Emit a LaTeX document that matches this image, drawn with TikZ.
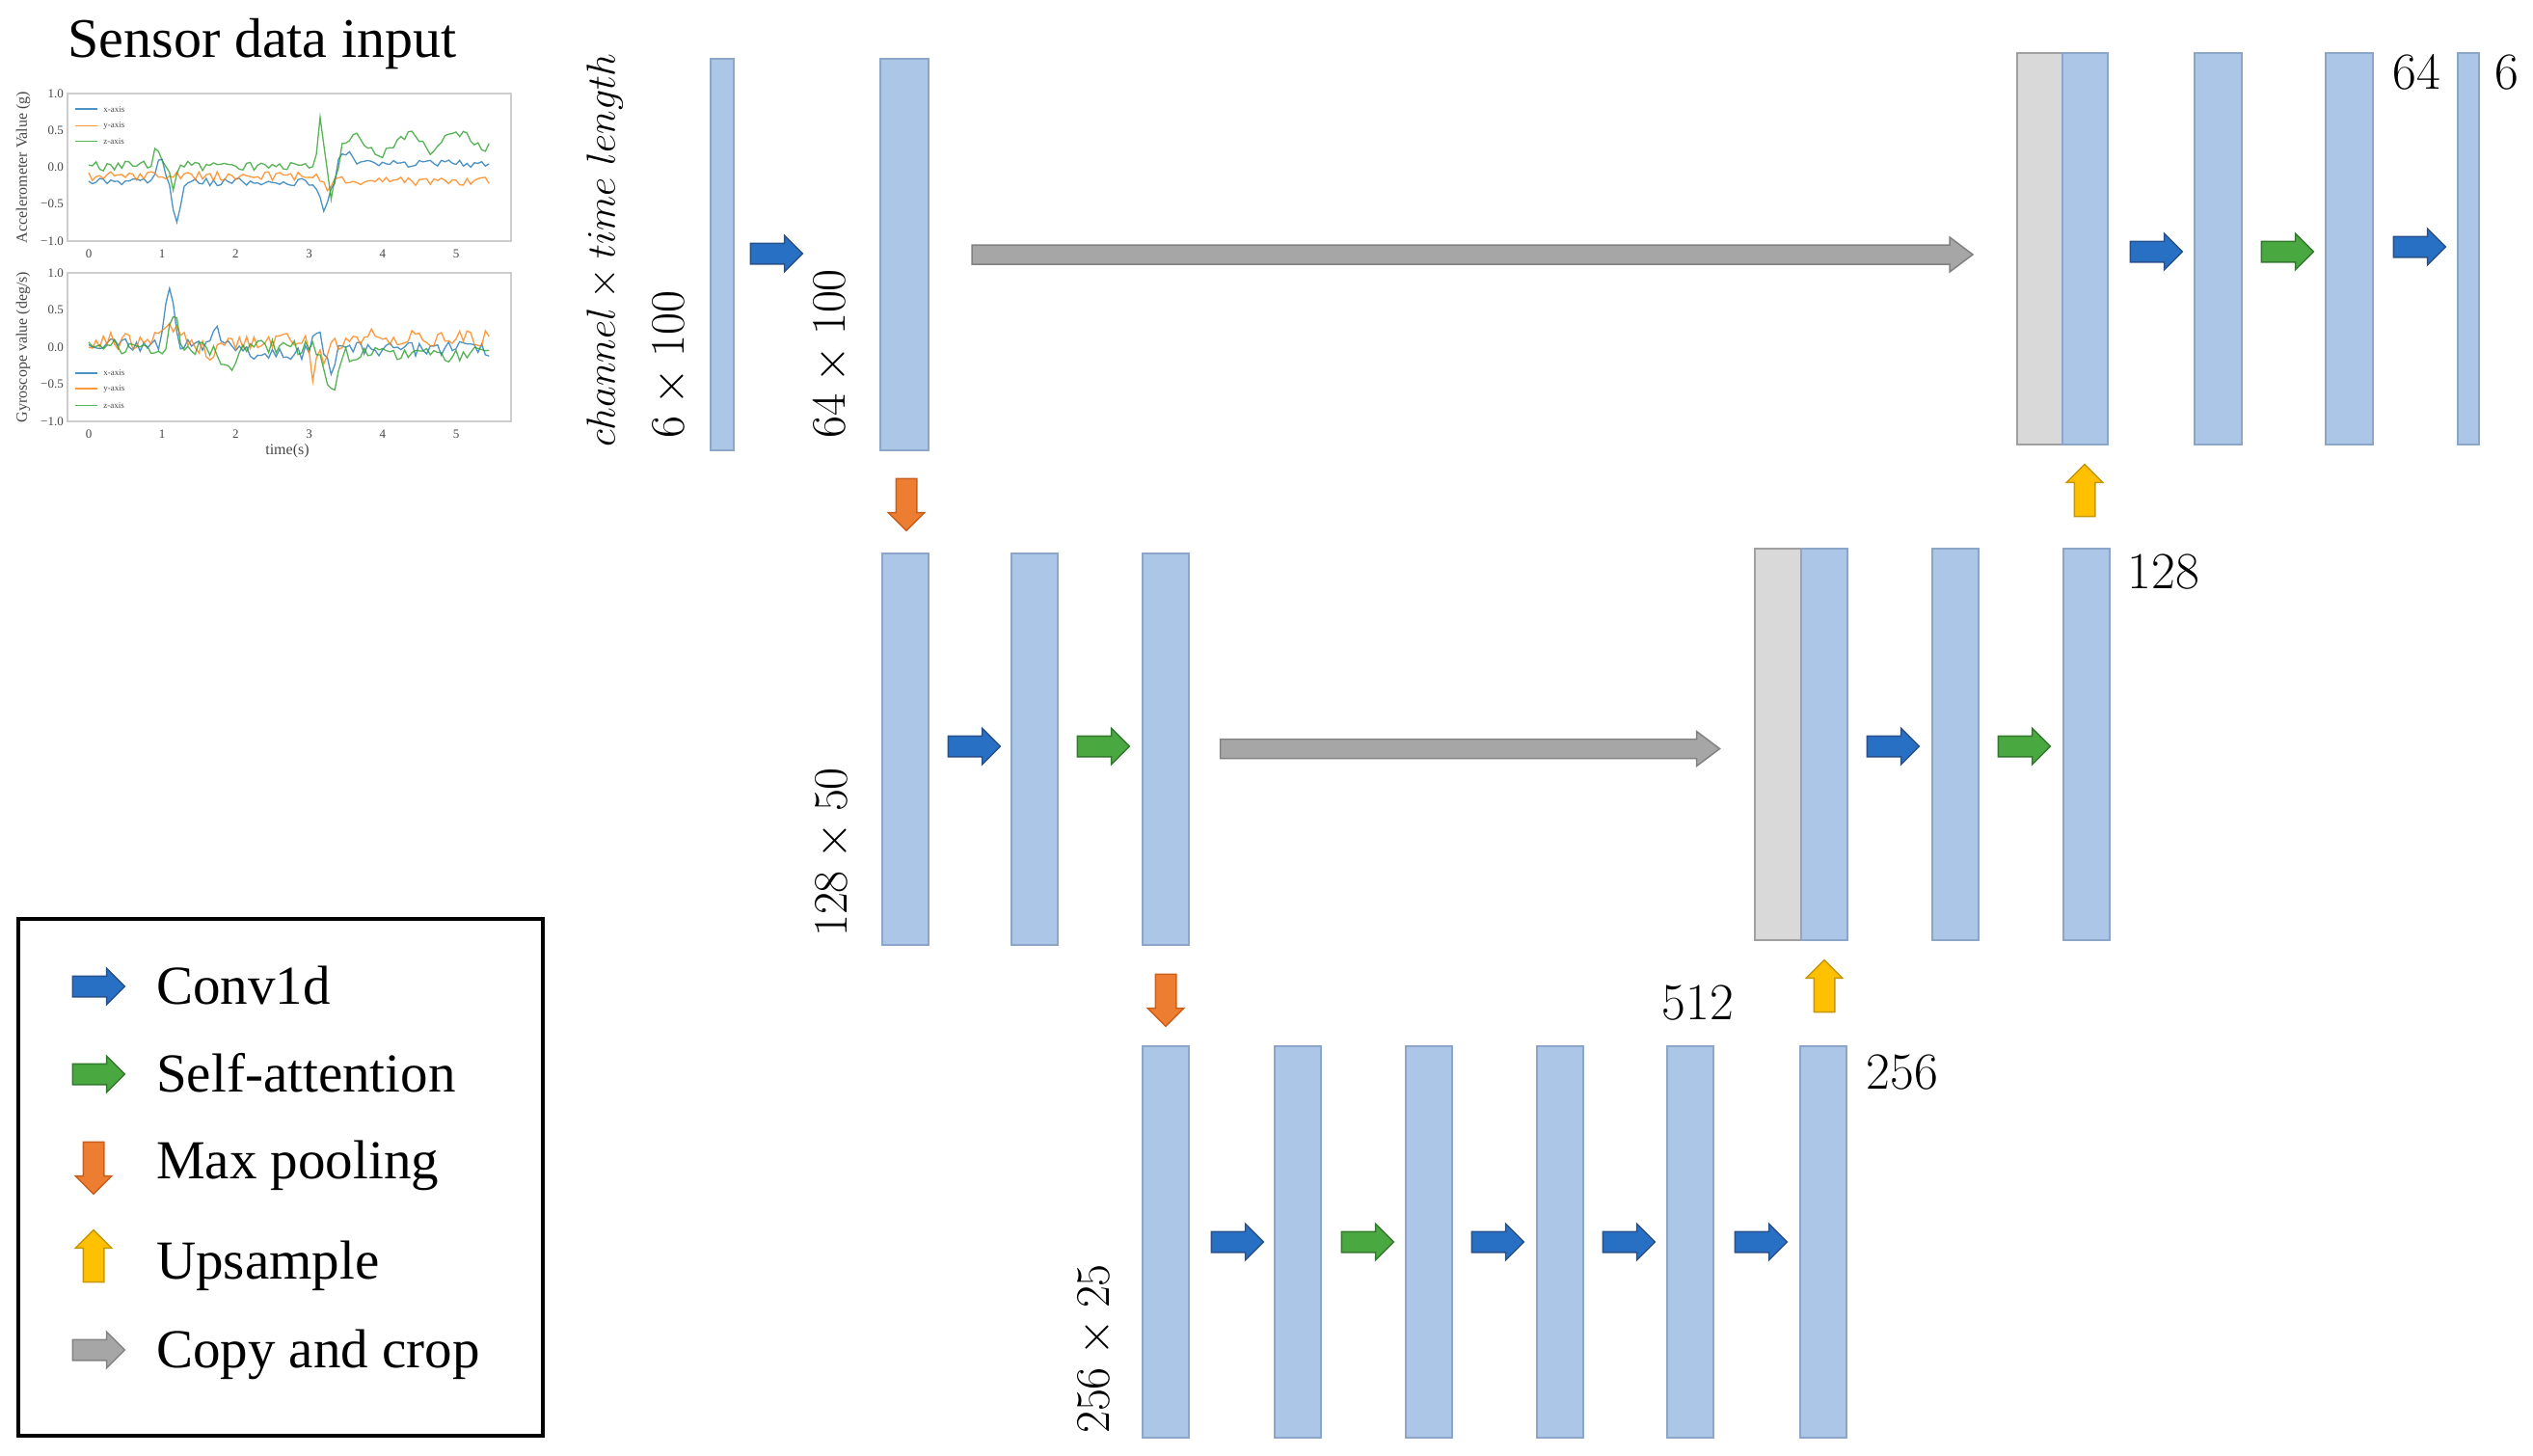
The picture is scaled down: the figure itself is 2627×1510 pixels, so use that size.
\documentclass[tikz,border=0pt]{standalone}
\usepackage{fix-cm}
\usepackage[no-math]{fontspec}
\newfontfamily\tnr{Liberation Serif}
\usetikzlibrary{shapes.arrows,calc}
\definecolor{barfill}{RGB}{172,198,232}
\definecolor{bardraw}{RGB}{140,166,202}
\definecolor{grayfill}{RGB}{217,217,217}
\definecolor{graydraw}{RGB}{160,160,160}
\definecolor{convfill}{RGB}{40,112,196}
\definecolor{convdraw}{RGB}{40,80,140}
\definecolor{attnfill}{RGB}{74,168,64}
\definecolor{attndraw}{RGB}{50,120,45}
\definecolor{poolfill}{RGB}{237,125,49}
\definecolor{pooldraw}{RGB}{200,95,30}
\definecolor{upfill}{RGB}{255,192,0}
\definecolor{updraw}{RGB}{200,150,0}
\definecolor{copyfill}{RGB}{166,166,166}
\definecolor{copydraw}{RGB}{130,130,130}
\definecolor{tabblue}{RGB}{31,119,180}
\definecolor{taborange}{RGB}{255,127,14}
\definecolor{tabgreen}{RGB}{44,160,44}
\definecolor{framegray}{RGB}{205,205,205}
\definecolor{ticktext}{RGB}{70,70,70}
\tikzset{
 bar/.style={draw=bardraw, fill=barfill, line width=2pt, inner sep=0pt, minimum height=406pt, minimum width=48pt},
 gbar/.style={bar, draw=graydraw, fill=grayfill},
 sarrow/.style={single arrow, single arrow head extend=8pt, minimum height=54pt, inner xsep=0pt, inner ysep=10pt, line width=1.5pt},
 conv/.style={sarrow, fill=convfill, draw=convdraw},
 attn/.style={sarrow, fill=attnfill, draw=attndraw},
 pool/.style={sarrow, rotate=-90, fill=poolfill, draw=pooldraw},
 upsm/.style={sarrow, rotate=90, fill=upfill, draw=updraw},
 copyleg/.style={sarrow, fill=copyfill, draw=copydraw},
 copyst/.style={fill=copyfill, draw=copydraw, line width=1.5pt},
 dimlbl/.style={rotate=90, anchor=west, inner sep=0pt, font=\fontsize{50}{56}\selectfont},
 num/.style={inner sep=0pt, font=\fontsize{54}{60}\selectfont},
 serif/.style={inner sep=0pt, font=\tnr\fontsize{57}{64}\selectfont},
 tick/.style={inner sep=0pt, text=ticktext, font=\tnr\fontsize{13}{15}\selectfont},
 axlbl/.style={inner sep=0pt, text=ticktext, font=\tnr\fontsize{16}{18}\selectfont},
 leg/.style={inner sep=0pt, text=ticktext, font=\tnr\fontsize{9}{11}\selectfont},
 data/.style={line width=1.3pt, opacity=0.8},
 plotframe/.style={draw=framegray, line width=2.5pt},
}
\newcommand\copyarrow[2]{\draw[copyst] let \p1=#1, \p2=#2 in
 (\x1,\y1+10pt) -- (\x2-24pt,\y1+10pt) -- (\x2-24pt,\y1+18pt) -- (\x2,\y1) --
 (\x2-24pt,\y1-18pt) -- (\x2-24pt,\y1-10pt) -- (\x1,\y1-10pt) -- cycle;}
\begin{document}
\begin{tikzpicture}[x=1pt,y=-1pt,
 declare function={gs(\t,\c,\w)=exp(-1*(min(abs((\t-\c)/\w),5))*(min(abs((\t-\c)/\w),5)));}]
\useasboundingbox (0,0) rectangle (2627,1510);

% ---------- sensor data panel ----------
\node[serif,font=\tnr\fontsize{58}{64}\selectfont] (title) at (272,46) {Sensor data input};
\draw[plotframe] (70,97) rectangle (530,250);
\draw[plotframe] (70,283) rectangle (530,437);
\foreach \v/\l [count=\i] in {1/1.0,0.5/0.5,0/0.0,-0.5/−0.5,-1/−1.0}{
 \node[tick,anchor=east] (ta\i) at (66,{173.5-76.5*\v}) {\l};
 \node[tick,anchor=east] (tb\i) at (66,{360-77*\v}) {\l};
}
\foreach \k in {0,...,5}{
 \node[tick] (xa\k) at ({92+76.2*\k},263) {\k};
 \node[tick] (xb\k) at ({92+76.2*\k},450) {\k};
}
\node[axlbl,rotate=90] (ylab1) at (24,173.5) {Accelerometer Value (g)};
\node[axlbl,rotate=90] (ylab2) at (24,360) {Gyroscope value (deg/s)};
\node[axlbl] (xlab) at (298,468) {time(s)};

\begin{scope}[shift={(92,173.5)},x=76.2pt,y=76.5pt]
\pgfmathsetseed{7}
\draw[data,tabblue] plot[domain=0:5.45,samples=110] (\x,{-0.2+0.3*gs(\x,0.97,0.08)-0.5*gs(\x,1.2,0.08)-0.35*gs(\x,3.2,0.08)+(\x>3.35)*(0.25+0.15*gs(\x,3.5,0.1))+0.05*rand});
\draw[data,taborange] plot[domain=0:5.45,samples=110] (\x,{-0.12-0.07*(\x>3.2)-0.15*gs(\x,3.25,0.06)+0.06*rand});
\draw[data,tabgreen] plot[domain=0:5.45,samples=110] (\x,{0.02+0.3*gs(\x,0.93,0.05)-0.3*gs(\x,1.15,0.04)+0.6*gs(\x,3.15,0.05)-0.4*gs(\x,3.3,0.05)+(\x>3.4)*(0.25+0.06*(\x-3.4)+0.12*sin(\x*520))+0.07*rand});
\draw[data,tabblue] (-0.18,0.79) -- (0.12,0.79);
\draw[data,taborange] (-0.18,0.56) -- (0.12,0.56);
\draw[data,tabgreen] (-0.18,0.35) -- (0.12,0.35);
\node[leg,anchor=west] (la1) at (0.2,0.79) {x-axis};
\node[leg,anchor=west] (la2) at (0.2,0.56) {y-axis};
\node[leg,anchor=west] (la3) at (0.2,0.35) {z-axis};
\end{scope}

\begin{scope}[shift={(92,360)},x=76.2pt,y=77pt]
\pgfmathsetseed{11}
\draw[data,tabblue] plot[domain=0:5.45,samples=110] (\x,{0.03+0.75*gs(\x,1.1,0.08)+0.2*gs(\x,1.75,0.07)-0.1*(\x>2)*(\x<3)+0.25*gs(\x,3.1,0.05)-0.3*gs(\x,3.3,0.07)-0.05*(\x>3.4)+0.1*rand});
\draw[data,taborange] plot[domain=0:5.45,samples=110] (\x,{0.08+0.3*gs(\x,1.1,0.1)-0.15*gs(\x,1.7,0.2)-0.5*gs(\x,3.05,0.05)-0.35*gs(\x,3.22,0.05)+0.05*(\x>3.5)+0.12*rand});
\draw[data,tabgreen] plot[domain=0:5.45,samples=110] (\x,{0.5*gs(\x,1.15,0.07)-0.3*gs(\x,1.9,0.15)-0.6*gs(\x,3.3,0.12)-0.1*(\x>3.5)+0.1*rand});
\draw[data,tabblue] (-0.18,-0.35) -- (0.12,-0.35);
\draw[data,taborange] (-0.18,-0.56) -- (0.12,-0.56);
\draw[data,tabgreen] (-0.18,-0.79) -- (0.12,-0.79);
\node[leg,anchor=west] (lb1) at (0.2,-0.35) {x-axis};
\node[leg,anchor=west] (lb2) at (0.2,-0.56) {y-axis};
\node[leg,anchor=west] (lb3) at (0.2,-0.79) {z-axis};
\end{scope}

% ---------- row 1 ----------
\node[bar,minimum width=24pt] (b0) at (749,264) {};
\node[bar,minimum width=50pt] (b1) at (938,264) {};
\node[gbar,minimum width=47pt] (g1) at (2115.5,258) {};
\node[bar,minimum width=47pt] (b2) at (2162.5,258) {};
\node[bar,minimum width=49pt] (b3) at (2300.5,258) {};
\node[bar,minimum width=49pt] (b4) at (2436.5,258) {};
\node[bar,minimum width=22pt] (b5) at (2560,258) {};
\node[dimlbl,font=\fontsize{42}{48}\selectfont] (lch) at (627,464) {$channel\times time\ length$};
\node[dimlbl] (l0) at (695,455) {$6\times100$};
\node[dimlbl] (l1) at (862,455) {$64\times100$};
\node[conv] (a1) at (800,263) {};
\copyarrow{($(b1.east)+(44pt,0pt)$)}{($(g1.west)+(-45pt,0pt)$)}
\node[conv] (a2) at (2231,261) {};
\node[attn] (a3) at (2367,261) {};
\node[conv] (a4) at (2504,256) {};
\node[num] (n64) at (2506,75) {64};
\node[num] (n6) at (2600,75) {6};
\node[pool] (p1) at (940,518) {};
\node[upsm] (u1) at (2162,514) {};

% ---------- row 2 ----------
\node[bar] (c1) at (939,776.5) {};
\node[bar] (c2) at (1073,776.5) {};
\node[bar] (c3) at (1208.5,776.5) {};
\node[gbar] (g2) at (1843.5,771.5) {};
\node[bar] (c4) at (1892,771.5) {};
\node[bar] (c5) at (2027.5,771.5) {};
\node[bar] (c6) at (2163.5,771.5) {};
\node[dimlbl] (l2) at (864,972) {$128\times50$};
\node[conv] (a5) at (1005,774) {};
\node[attn] (a6) at (1139,774) {};
\copyarrow{($(c3.east)+(32pt,0pt)$)}{($(g2.west)+(-35pt,0pt)$)}
\node[conv] (a7) at (1958,774) {};
\node[attn] (a8) at (2094,774) {};
\node[num] (n128) at (2244,593) {128};
\node[pool] (p2) at (1209,1032) {};
\node[upsm] (u2) at (1892,1028) {};
\node[num] (n512) at (1761,1040) {512};

% ---------- row 3 ----------
\node[bar] (d1) at (1208.5,1288) {};
\node[bar] (d2) at (1346,1288) {};
\node[bar] (d3) at (1481.5,1288) {};
\node[bar] (d4) at (1617.5,1288) {};
\node[bar] (d5) at (1753,1288) {};
\node[bar] (d6) at (1890.5,1288) {};
\node[dimlbl] (l3) at (1136,1487) {$256\times25$};
\node[conv] (a9) at (1278,1288) {};
\node[attn] (a10) at (1413,1288) {};
\node[conv] (a11) at (1548,1288) {};
\node[conv] (a12) at (1684,1288) {};
\node[conv] (a13) at (1821,1288) {};
\node[num] (n256) at (1973,1112) {256};

% ---------- legend ----------
\node[draw=black,line width=4pt,minimum width=544pt,minimum height=536pt,anchor=north west,inner sep=0pt] (legbox) at (17,951) {};
\node[conv] (lc) at (97,1023) {};
\node[serif,anchor=base west] (lct) at (162,1041) {Conv1d};
\node[attn] (la) at (97,1114) {};
\node[serif,anchor=base west] (lat) at (162,1132) {Self-attention};
\node[pool] (lp) at (97,1206) {};
\node[serif,anchor=base west] (lpt) at (162,1222) {Max pooling};
\node[upsm] (lu) at (97,1308) {};
\node[serif,anchor=base west] (lut) at (162,1326) {Upsample};
\node[copyleg] (lk) at (97,1400) {};
\node[serif,anchor=base west] (lkt) at (162,1418) {Copy and crop};
\end{tikzpicture}
\end{document}
